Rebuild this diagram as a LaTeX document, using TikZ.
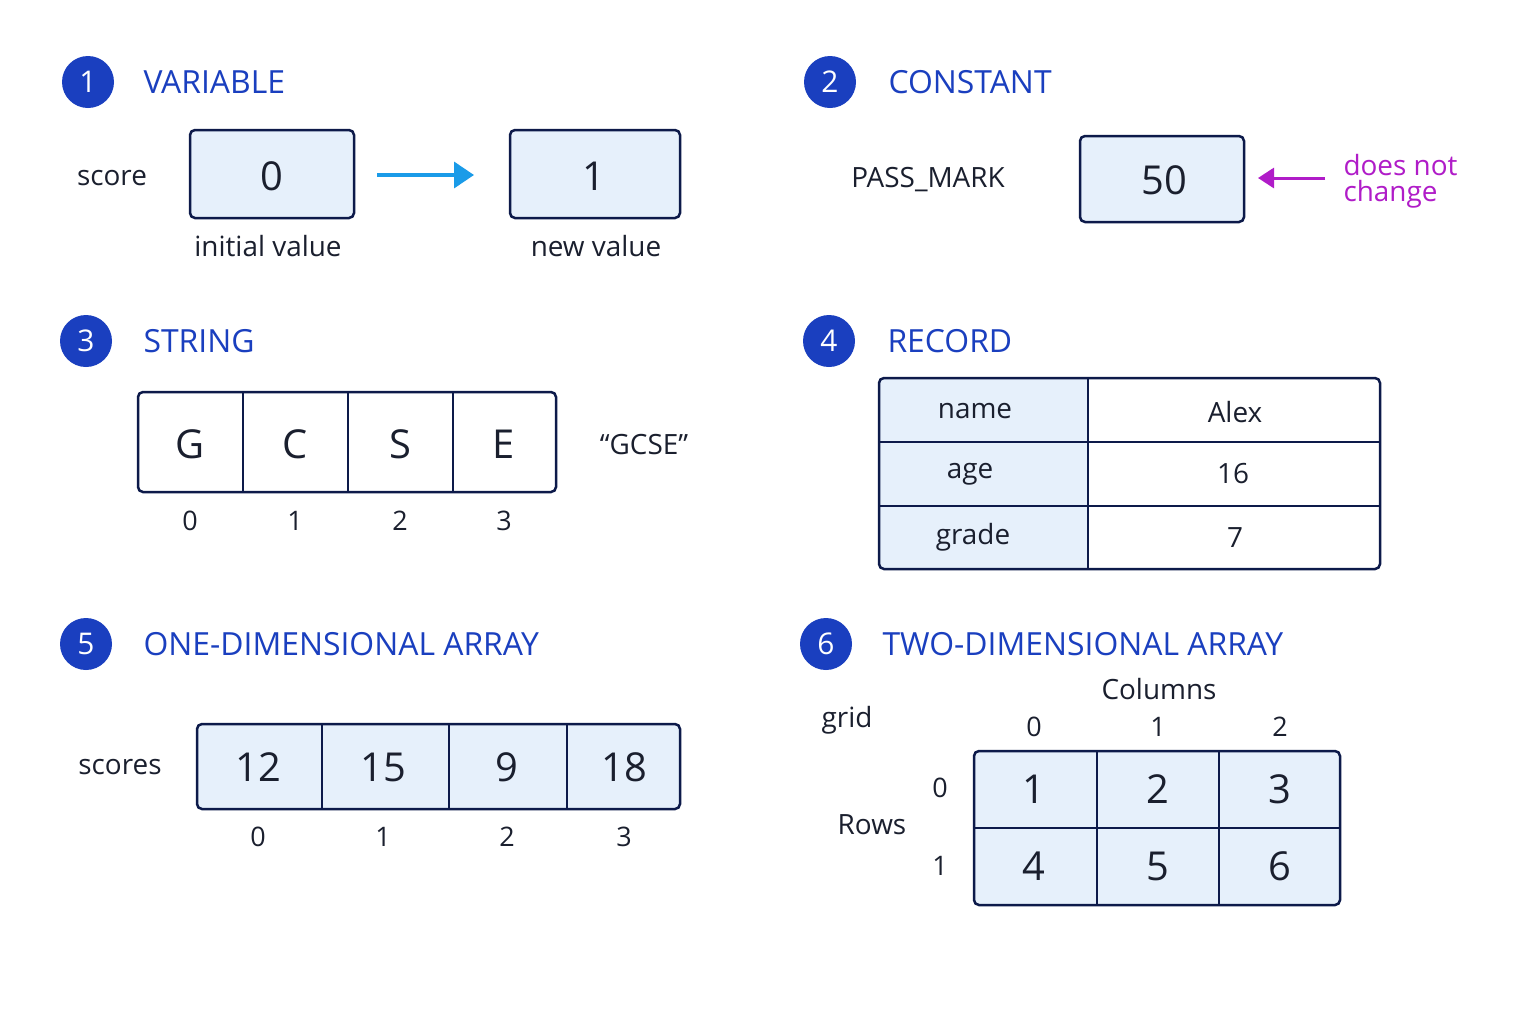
\documentclass[tikz,border=0pt]{standalone}
\usepackage{fontspec}
\setmainfont{Open Sans}
\usetikzlibrary{arrows.meta}
\definecolor{tblue}{HTML}{1A3FBF}
\definecolor{navy}{HTML}{0D1A4A}
\definecolor{cellb}{HTML}{E6F0FB}
\definecolor{abl}{HTML}{1A9BE8}
\definecolor{mag}{HTML}{B01CC8}
\definecolor{txt}{HTML}{1A1F2E}
\begin{document}
\begin{tikzpicture}[x=1bp,y=-1bp,
  num/.style={circle,fill=tblue,minimum size=52bp,inner sep=0,text=white,font=\fontsize{30}{30}\selectfont},
  ttl/.style={anchor=west,text=tblue,font=\fontsize{32}{32}\selectfont},
  lbl/.style={text=txt,font=\fontsize{28}{28}\selectfont},
  idx/.style={text=txt,font=\fontsize{27}{27}\selectfont},
  bx/.style={draw=navy,line width=2.5bp,fill=cellb,rounded corners=5bp},
  big/.style={text=txt,font=\fontsize{40}{40}\selectfont}]
\useasboundingbox[fill=white] (0,0) rectangle (1536,1024);
% 1
\node[num] (n1) at (88,82) {1};
\node[ttl] (t1) at (140,82) {VARIABLE};
\node[lbl] (score) at (112,178) {score};
\draw[bx] (190,130) rectangle (354,218);
\node[big] (v0) at (272,176) {0};
\draw[bx] (510,130) rectangle (680,218);
\node[big] (v1) at (594,176) {1};
\coordinate (a1) at (377,175); \coordinate (a2) at (474,175);
\draw[abl,line width=3.5bp,-{Triangle[length=20bp,width=26bp]}] (a1) -- (a2);
\node[lbl] (iv) at (268,246) {initial value};
\node[lbl] (nv) at (596,246) {new value};
% 2
\node[num] (n2) at (830,82) {2};
\node[ttl] (t2) at (885,82) {CONSTANT};
\node[lbl] (pm) at (928,180) {PASS\_MARK};
\draw[bx] (1080,136) rectangle (1244,222);
\node[big] (v50) at (1164,180) {50};
\coordinate (m1) at (1325,178); \coordinate (m2) at (1258,178);
\draw[mag,line width=3bp,-{Triangle[length=16bp,width=20bp]}] (m1) -- (m2);
\node[lbl,text=mag,anchor=west,align=left] (dnc) at (1340,181) {does not\\[-2bp]change};
% 3
\node[num] (n3) at (86,341) {3};
\node[ttl] (t3) at (140,341) {STRING};
\draw[draw=navy,line width=2.5bp,fill=white,rounded corners=5bp] (138,392) rectangle (556,492);
\foreach \x in {243,348,453} \draw[navy,line width=2.5bp] (\x,392) -- (\x,492);
\foreach \c/\x/\i in {G/190/0,C/295/1,S/400/2,E/504/3}{
  \node[big] (s\i) at (\x,444) {\c};
  \node[idx] (si\i) at (\x,521) {\i};}
\node[lbl] (gcse) at (644,445) {“GCSE”};
% 4
\node[num] (n4) at (829,341) {4};
\node[ttl] (t4) at (884,341) {RECORD};
\fill[cellb] (879,378) rectangle (1088,569);
\draw[navy,line width=2.5bp,rounded corners=5bp] (879,378) rectangle (1380,569);
\draw[navy,line width=2.5bp] (1088,378) -- (1088,569) (879,442) -- (1380,442) (879,506) -- (1380,506);
\node[lbl] (rn) at (975,411) {name};
\node[lbl] (ra) at (1235,412) {Alex};
\node[lbl] (rg) at (970,474) {age};
\node[lbl] (r16) at (1233,474) {16};
\node[lbl] (rgr) at (973,537) {grade};
\node[lbl] (r7) at (1235,538) {7};
% 5
\node[num] (n5) at (86,644) {5};
\node[ttl] (t5) at (140,644) {ONE-DIMENSIONAL ARRAY};
\node[lbl] (scores) at (120,767) {scores};
\draw[bx] (197,724) rectangle (680,809);
\foreach \x in {322,449,567} \draw[navy,line width=2.5bp] (\x,724) -- (\x,809);
\foreach \v/\x/\i in {12/258/0,15/383/1,9/507/2,18/624/3}{
  \node[big] (a\i) at (\x,767) {\v};
  \node[idx] (ai\i) at (\x,837) {\i};}
% 6
\node[num] (n6) at (826,644) {6};
\node[ttl] (t6) at (879,644) {TWO-DIMENSIONAL ARRAY};
\node[lbl] (grid) at (847,720) {grid};
\node[lbl] (cols) at (1159,689) {Columns};
\node[lbl] (rows) at (872,825) {Rows};
\foreach \x/\i in {1034/0,1158/1,1280/2} \node[idx] (c\i) at (\x,727) {\i};
\node[idx] (r0) at (940,788) {0};
\node[idx] (r1) at (940,866) {1};
\draw[bx] (974,751) rectangle (1340,905);
\draw[navy,line width=2.5bp] (1097,751) -- (1097,905) (1219,751) -- (1219,905) (974,828) -- (1340,828);
\foreach \v/\x/\y in {1/1034/789,2/1158/789,3/1280/789,4/1034/866,5/1158/866,6/1280/866}
  \node[big] (g\v) at (\x,\y) {\v};
\end{tikzpicture}
\end{document}
